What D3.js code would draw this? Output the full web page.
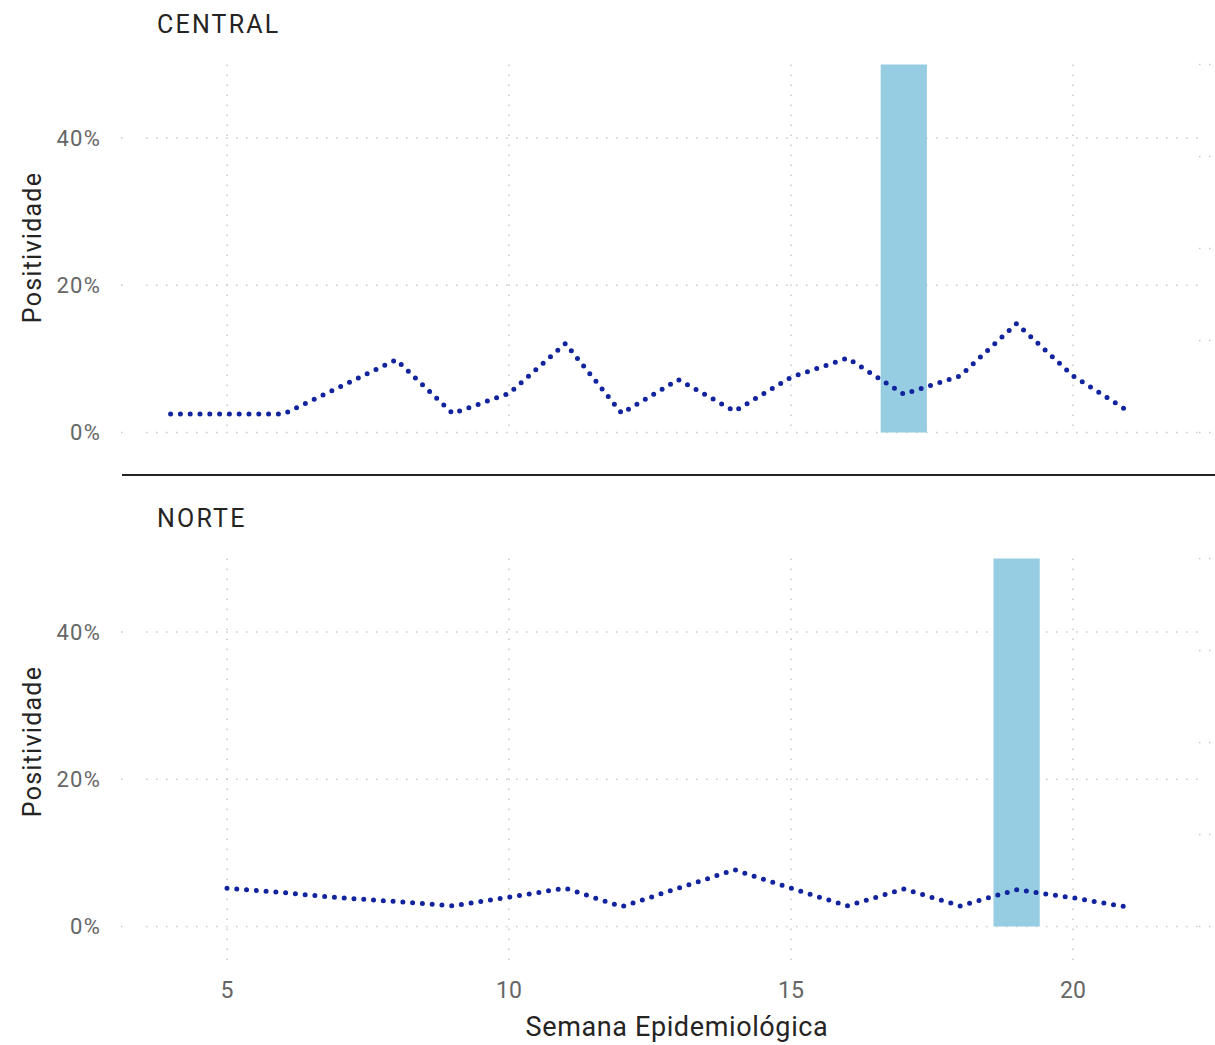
<!DOCTYPE html>
<html>
<head>
<meta charset="utf-8">
<script src="https://cdn.jsdelivr.net/npm/d3@7"></script>
<style>
  html, body { margin: 0; padding: 0; background: #fff; }
  svg { display: block; font-family: Roboto, "DejaVu Sans", sans-serif; }
</style>
</head>
<body>
<svg id="chart" width="1215" height="1045"></svg>
<script>
// ---- data ----
const regions = ["CENTRAL", "NORTE"];
const weeksCentral = [4,5,6,7,8,9,10,11,12,13,14,15,16,17,18,19,20,21];
const positividadCentral = [2.5,2.5,2.5,6.2,9.9,2.6,5.3,12.1,2.6,7.2,2.9,7.5,10.1,5.2,7.7,14.8,7.7,2.8];
const weeksNorte = [5,6,7,8,9,10,11,12,13,14,15,16,17,18,19,20,21];
const positividadNorte = [5.2,4.6,3.9,3.4,2.8,4.0,5.2,2.7,5.2,7.7,5.2,2.8,5.1,2.8,5.0,3.9,2.6];
const markerWeek = [17, 19];      // highlighted week per region (bar)
const markerValue = [50, 50];     // bar height (% on positivity axis)
const yTicks = [0, 20, 40];
const xTicks = [5, 10, 15, 20];
const secondaryTicks = [0, 1, 2, 3, 4];

const seriesWeeks = [weeksCentral, weeksNorte];
const seriesVals = [positividadCentral, positividadNorte];

// ---- layout ----
const svg = d3.select("#chart");
const x = d3.scaleLinear().domain([5, 20]).range([227, 1073]);
const plotLeft = 146, plotRight = 1206;
const panelTops = [64.5, 558.5];
const panelH = 368;

const gridColor = "#c8c8c8";
const tickColor = "#666666";
const titleColor = "#252423";

panelTops.forEach((top, i) => {
  const y = d3.scaleLinear().domain([0, 50]).range([top + panelH, top]);
  const y2 = d3.scaleLinear().domain([0, 4]).range([top + panelH, top]);
  const g = svg.append("g");

  // horizontal gridlines
  g.selectAll(".hg").data(yTicks).join("line")
    .attr("x1", plotLeft).attr("x2", plotRight)
    .attr("y1", d => y(d)).attr("y2", d => y(d))
    .attr("stroke", gridColor).attr("stroke-width", 1.5)
    .attr("stroke-dasharray", "1.5 8.5");
  g.selectAll(".hs").data(yTicks).join("line")
    .attr("x1", 121).attr("x2", 122.5)
    .attr("y1", d => y(d)).attr("y2", d => y(d))
    .attr("stroke", gridColor).attr("stroke-width", 1.5);

  // secondary axis gridline stubs at right
  g.selectAll(".sg").data(secondaryTicks).join("line")
    .attr("x1", 1199).attr("x2", 1211)
    .attr("y1", d => y2(d)).attr("y2", d => y2(d))
    .attr("stroke", gridColor).attr("stroke-width", 1.5)
    .attr("stroke-dasharray", "1.5 8.5");

  // vertical gridlines
  const vBottom = i === 1 ? 968 : top + panelH;
  g.selectAll(".vg").data(xTicks).join("line")
    .attr("x1", d => x(d)).attr("x2", d => x(d))
    .attr("y1", top).attr("y2", vBottom)
    .attr("stroke", gridColor).attr("stroke-width", 1.5)
    .attr("stroke-dasharray", "1.5 8.5");

  // y tick labels
  g.selectAll(".yt").data(yTicks).join("text")
    .attr("x", 101).attr("y", d => y(d))
    .attr("dy", "0.35em")
    .attr("text-anchor", "end")
    .attr("fill", tickColor)
    .attr("font-size", 22)
    .attr("letter-spacing", 1.2)
    .text(d => d + "%");

  // bar
  const bw = 0.41;
  g.append("rect")
    .attr("x", x(markerWeek[i] - bw))
    .attr("width", x(markerWeek[i] + bw) - x(markerWeek[i] - bw))
    .attr("y", y(markerValue[i]))
    .attr("height", y(0) - y(markerValue[i]))
    .attr("fill", "#96cde3");

  // line
  const pts = seriesWeeks[i].map((w, k) => [w, seriesVals[i][k]]);
  const line = d3.line().x(d => x(d[0])).y(d => y(d[1])).curve(d3.curveLinear);
  g.append("path")
    .attr("d", line(pts))
    .attr("fill", "none")
    .attr("stroke", "#12239e")
    .attr("stroke-width", 5)
    .attr("stroke-linecap", "round")
    .attr("stroke-linejoin", "round")
    .attr("stroke-dasharray", "0 9.8");

  // panel title
  g.append("text")
    .attr("x", 157).attr("y", top - 31.5)
    .attr("fill", titleColor)
    .attr("font-size", 25)
    .attr("letter-spacing", 2.2)
    .text(regions[i]);

  // y axis title
  g.append("text")
    .attr("transform", `translate(41,${top + panelH / 2 - 1}) rotate(-90)`)
    .attr("text-anchor", "middle")
    .attr("fill", titleColor)
    .attr("font-size", 25)
    .attr("letter-spacing", 1.25)
    .text("Positividade");
});

// separator
svg.append("line")
  .attr("x1", 122).attr("x2", 1215)
  .attr("y1", 475).attr("y2", 475)
  .attr("stroke", titleColor).attr("stroke-width", 2);

// x tick labels
svg.selectAll(".xt").data(xTicks).join("text")
  .attr("x", d => x(d)).attr("y", 998)
  .attr("text-anchor", "middle")
  .attr("fill", tickColor)
  .attr("font-size", 23)
  .text(d => d);

// x axis title
svg.append("text")
  .attr("x", 677).attr("y", 1036)
  .attr("text-anchor", "middle")
  .attr("fill", titleColor)
  .attr("font-size", 27)
  .attr("letter-spacing", 0.62)
  .text("Semana Epidemiológica");
</script>
</body>
</html>
